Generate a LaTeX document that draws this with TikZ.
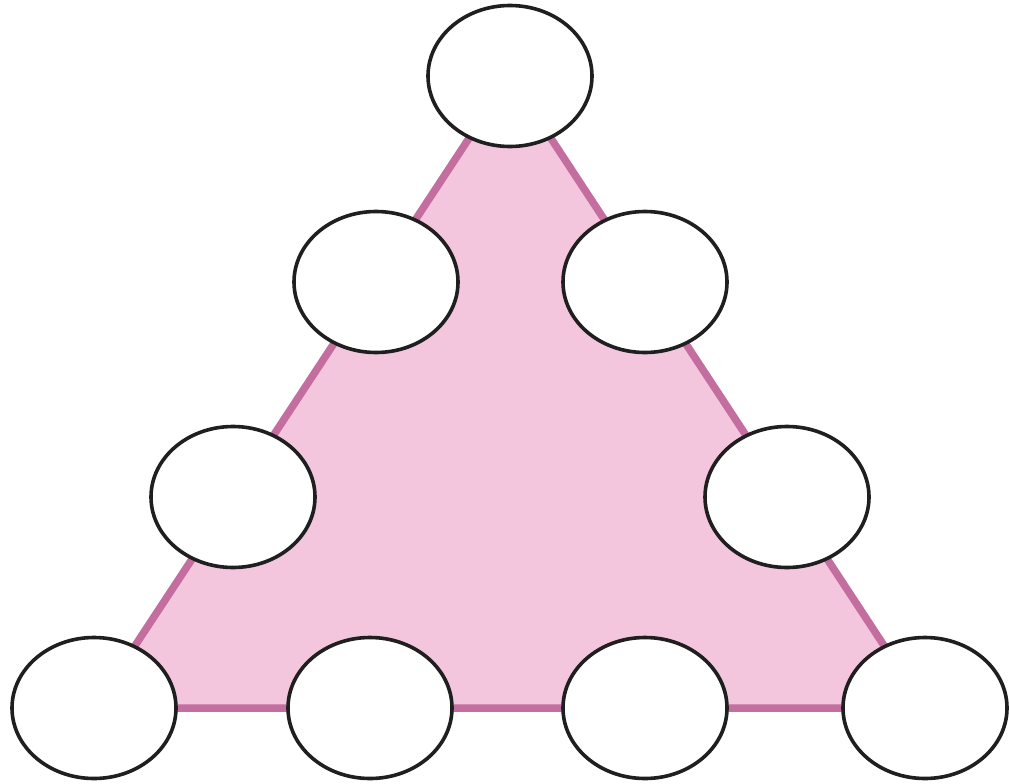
\documentclass[tikz,border=0pt]{standalone}
\usetikzlibrary{shapes.geometric,backgrounds}
\definecolor{triline}{RGB}{196,110,160}
\definecolor{trifill}{RGB}{243,198,221}
\tikzset{
  slot/.style={ellipse,draw=black!88,line width=3.6pt,fill=white,minimum width=164pt,minimum height=141pt,inner sep=0pt},
  tri/.style={draw=triline,fill=trifill,line width=7.5pt,line join=miter}
}
\begin{document}
\begin{tikzpicture}[x=1pt,y=-1pt]
\useasboundingbox (0,0) rectangle (1009,784);
\node[slot] (t) at (510,76) {};
\node[slot] (l2) at (376,282) {};
\node[slot] (r2) at (645,282) {};
\node[slot] (l3) at (233,497) {};
\node[slot] (r3) at (787,497) {};
\node[slot] (b1) at (94,708) {};
\node[slot] (b2) at (370,708) {};
\node[slot] (b3) at (645,708) {};
\node[slot] (b4) at (925,708) {};
\begin{scope}[on background layer]
\draw[tri] (t.center) -- (b1.center) -- (b4.center) -- cycle;
\end{scope}
\end{tikzpicture}
\end{document}
